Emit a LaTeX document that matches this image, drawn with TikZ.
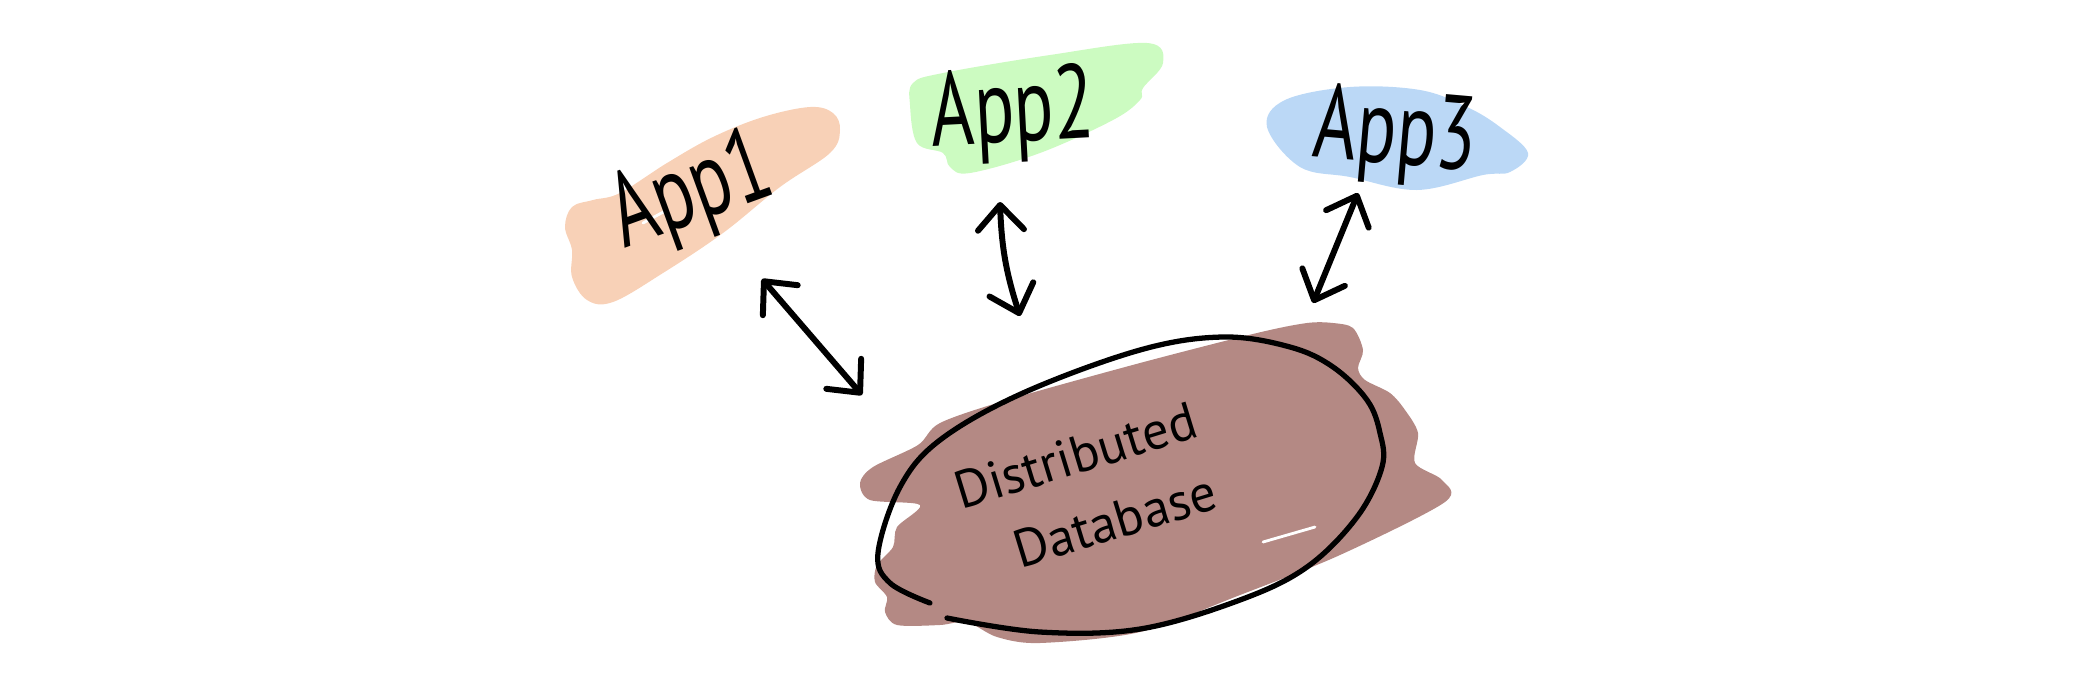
\documentclass[tikz,border=0pt]{standalone}
\usepackage{fontspec}
\setmainfont{PT Sans}
\usetikzlibrary{arrows.meta}

\definecolor{peach}{HTML}{F8D1B7}
\definecolor{mint}{HTML}{CCFBC1}
\definecolor{sky}{HTML}{BBD8F6}
\definecolor{clay}{HTML}{B48984}

\newcommand{\hand}[1]{\scalebox{0.7}[1]{#1}}

\begin{document}
\begin{tikzpicture}[x=0.1mm,y=-0.1mm,
  apptext/.style={font=\fontsize{30}{30}\selectfont,inner sep=0pt},
  dbtext/.style={font=\fontsize{15}{21}\selectfont,inner sep=0pt,rotate=17,align=left},
  link/.style={line width=1.7pt,line cap=round,
    {Straight Barb[length=2.5mm,width=4.6mm,round]}-{Straight Barb[length=2.5mm,width=4.6mm,round]}},
  outline/.style={line width=1.5pt,line cap=round}]

  \useasboundingbox (0,0) rectangle (2100,689);

  % Marker blobs behind the labels
  \fill[peach] plot[smooth cycle,tension=0.6] coordinates {(565,227) (572,207) (593,200) (620,193)
    (667,163) (713,137) (763,117) (810,107) (833,113) (840,130) (830,153) (780,187)
    (723,233) (663,273) (613,302) (587,300) (572,277) (572,250)};
  \fill[mint] plot[smooth cycle,tension=0.6] coordinates {(910,105) (913,83) (943,73) (1050,55)
    (1147,43) (1163,63) (1143,88) (1140,100) (1113,120) (1040,153) (970,173) (950,167)
    (943,153) (917,143)};
  \fill[sky] plot[smooth cycle,tension=0.6] coordinates {(1267,127) (1285,100) (1350,87) (1420,90)
    (1467,107) (1500,127) (1528,153) (1510,172) (1483,175) (1417,190) (1350,177) (1300,167)};
  \fill[clay] plot[smooth cycle,tension=0.5] coordinates {(1140,363) (1007,400) (940,423) (918,445)
    (873,467) (860,483) (870,500) (920,505) (897,527) (893,547) (877,565) (875,582)
    (887,597) (885,612) (897,625) (940,625) (967,622) (997,637) (1040,643) (1140,632)
    (1240,595) (1340,555) (1445,502) (1442,480) (1415,463) (1418,433) (1405,410)
    (1390,393) (1365,380) (1358,368) (1363,350) (1353,328) (1333,323) (1307,323) (1257,333)};
  \draw[white,line width=0.8pt,line cap=round] (643,223) -- (667,210);
  \draw[white,line width=0.8pt,line cap=round] (1263,542) -- (1315,527);

  % Ring round the database, left open at the lower left
  \draw[outline] plot[smooth,tension=0.6] coordinates {(947,618) (1040,632) (1140,629) (1240,600)
    (1307,567) (1357,517) (1382,467) (1380,433) (1367,400) (1333,367) (1290,347)
    (1223,337) (1140,350) (1023,393) (940,440) (900,487) (878,553) (890,583) (930,603)};

  % Labels
  \node[apptext,rotate=20] (app1) at (692,195) {\hand{App1}};
  \node[apptext,rotate=3] (app2) at (1013,115) {\hand{App2}};
  \node[apptext,rotate=-5] (app3) at (1395,137) {\hand{App3}};
  \node[dbtext] (db) at (1086,491) {Distributed\\\hspace*{4mm}Database};

  % Arrow ends
  \coordinate (a1top) at (762,279);
  \coordinate (a1bot) at (862,395);
  \coordinate (a2top) at (1000,202);
  \coordinate (a2bot) at (1020,316);
  \coordinate (a3top) at (1358,193);
  \coordinate (a3bot) at (1313,303);

  \draw[link] (a1top) -- (a1bot);
  \draw[link] (a2top) to[bend right=8] (a2bot);
  \draw[link] (a3top) -- (a3bot);

\end{tikzpicture}
\end{document}
